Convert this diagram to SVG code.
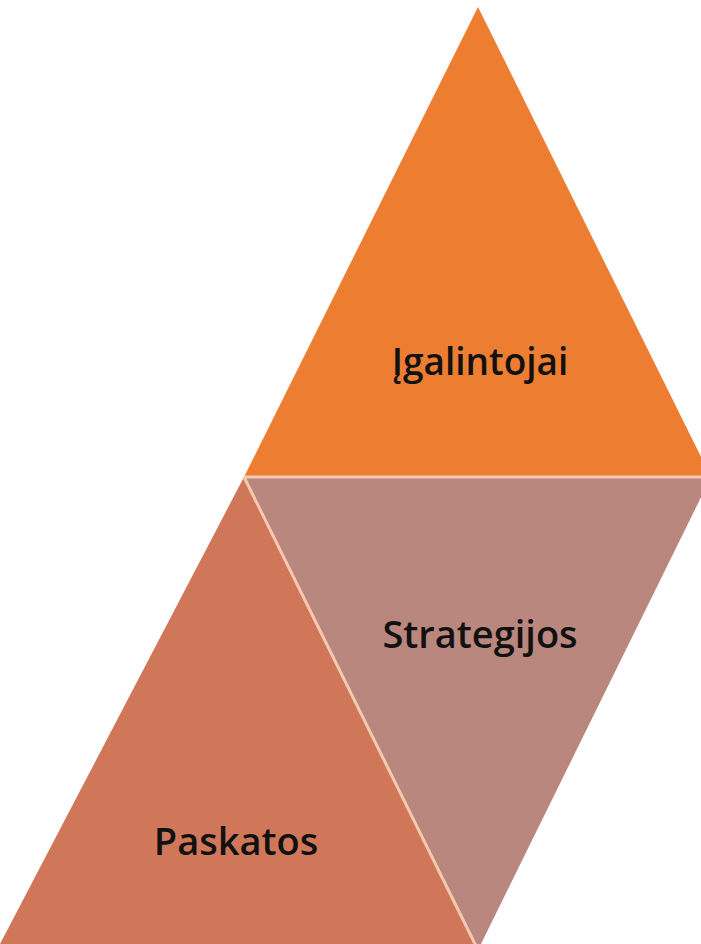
<svg xmlns="http://www.w3.org/2000/svg" width="701" height="944" viewBox="0 0 701 944">
<style>
.lbl{font-family:"Open Sans","Noto Sans",sans-serif;font-weight:600;fill:#111;text-anchor:middle}
.sep{stroke:#f6c9b0;stroke-width:3;fill:none}
</style>
<rect width="701" height="944" fill="#ffffff"/>
<g id="node-igalintojai">
<polygon points="478,7 711,477 244,477" fill="#ED7D31"/>
<text class="lbl" x="480" y="375" font-size="37">Įgalintojai</text>
</g>
<g id="node-strategijos">
<polygon points="244,477 711,477 478,950" fill="#B9877E"/>
<text class="lbl" x="480" y="648" font-size="38">Strategijos</text>
</g>
<g id="node-paskatos">
<polygon points="244,477 478,950 0,966 0,944" fill="#D0775A"/>
<text class="lbl" x="236" y="855" font-size="38">Paskatos</text>
</g>
<g id="connectors">
<line class="sep" x1="244" y1="477" x2="711" y2="477"/>
<line class="sep" x1="244" y1="477" x2="478" y2="950"/>
</g>
</svg>
